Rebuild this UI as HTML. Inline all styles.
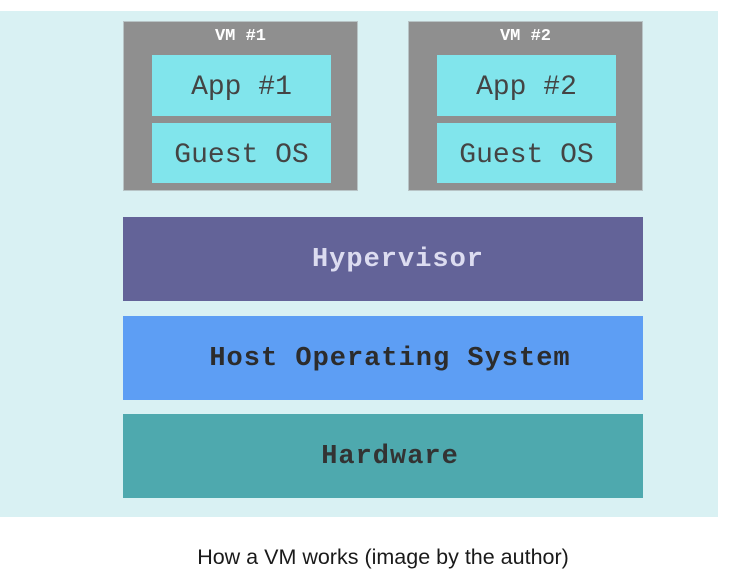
<!DOCTYPE html>
<html><head><style>
body{margin:0;width:743px;height:584px;background:#fff;position:relative;overflow:hidden;font-family:"Liberation Mono",monospace;}
div{position:absolute;box-sizing:border-box;}
.bg{left:0;top:11px;width:718px;height:506px;background:#d9f1f3;}
.vm{background:#8f8f8f;border:1px solid #b8c4c6;width:235px;height:170px;top:21px;}
.t{color:#fff;font-weight:bold;font-size:17px;text-align:center;width:100%;top:5px;}
.in{background:#81e5ec;left:28px;width:179px;color:#444;font-size:28px;text-align:center;display:flex;align-items:center;justify-content:center;padding-top:4px;}
.bar{left:123px;width:520px;height:84px;display:flex;align-items:center;justify-content:center;font-size:27px;font-weight:bold;letter-spacing:1px;padding-top:2px;}
.cap{left:0;width:766px;top:545px;text-align:center;font-family:"Liberation Sans",sans-serif;font-size:21.5px;color:#1a1a1a;}
</style></head><body>
<div class="bg"></div>
<div class="vm" style="left:123px"><div class="t">VM #1</div><div class="in" style="top:33px;height:61px">App #1</div><div class="in" style="top:101px;height:60px">Guest OS</div></div>
<div class="vm" style="left:408px"><div class="t">VM #2</div><div class="in" style="top:33px;height:61px">App #2</div><div class="in" style="top:101px;height:60px">Guest OS</div></div>
<div class="bar" style="top:217px;background:#636398;color:#dcdcf0;padding-left:30px">Hypervisor</div>
<div class="bar" style="top:316px;background:#5d9ef4;color:#2c2c2c;padding-left:14px">Host Operating System</div>
<div class="bar" style="top:414px;background:#4ea9ae;color:#333;padding-left:14px">Hardware</div>
<div class="cap">How a VM works (image by the author)</div>
</body></html>
